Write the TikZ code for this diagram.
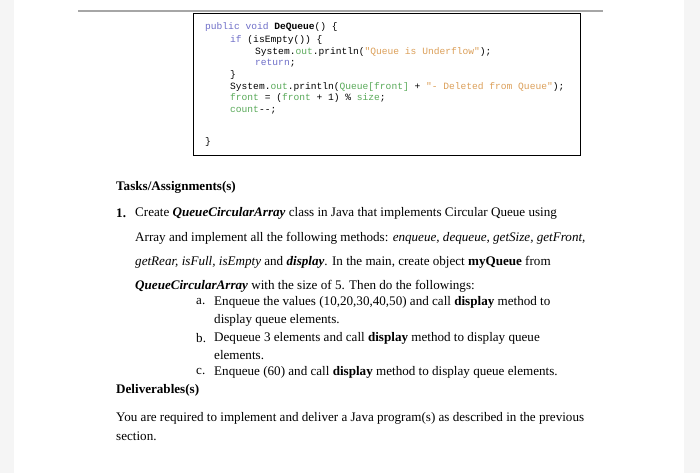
\documentclass[tikz,border=0pt]{standalone}
\usepackage{fontspec}
\setmainfont{Liberation Serif}
\setmonofont{Liberation Mono}
\definecolor{kw}{RGB}{110,110,200}
\definecolor{st}{RGB}{220,160,90}
\definecolor{gr}{RGB}{90,170,90}
\begin{document}
\begin{tikzpicture}[x=1pt,y=-1pt,
  code/.style={anchor=west,inner sep=0,font=\fontsize{9.6}{11}\ttfamily},
  txt/.style={anchor=west,inner sep=0,font=\fontsize{13.1}{15}\selectfont}]
\fill[gray!8] (0,0) rectangle (700,473);
\fill[white] (14,0) rectangle (684,473);
\useasboundingbox (0,0) rectangle (700,473);
\draw[gray!70,line width=1.2] (78,11) -- (603,11);
\draw[line width=0.8] (193,13) rectangle (580,155);
\node[code] (c1) at (205,27) {\textcolor{kw}{public void} \textbf{DeQueue}() \{};
\node[code] (c2) at (230,40) {\textcolor{kw}{if} (isEmpty()) \{};
\node[code] (c3) at (255,52) {System.\textcolor{gr}{out}.println(\textcolor{st}{"Queue is Underflow"});};
\node[code] (c4) at (255,63) {\textcolor{kw}{return};};
\node[code] (c5) at (230,75) {\}};
\node[code] (c6) at (230,87) {System.\textcolor{gr}{out}.println(\textcolor{gr}{Queue[front]} + \textcolor{st}{"- Deleted from Queue"});};
\node[code] (c7) at (230,98) {\textcolor{gr}{front} = (\textcolor{gr}{front} + 1) \% \textcolor{gr}{size};};
\node[code] (c8) at (230,110) {\textcolor{gr}{count}--;};
\node[code] (c9) at (205,142) {\}};
\node[txt] (t0) at (116,187) {\textbf{Tasks/Assignments(s)}};
\node[txt] (t1) at (116,213) {\textbf{1.}};
\node[txt] (t1a) at (135,213) {Create \textbf{\textit{QueueCircularArray}} class in Java that implements Circular Queue using};
\node[txt] (t1b) at (135,238) {Array and implement all the following methods: \textit{enqueue, dequeue, getSize, getFront,}};
\node[txt] (t1c) at (135,262) {\textit{getRear, isFull, isEmpty} and \textbf{\textit{display}}. In the main, create object \textbf{myQueue} from};
\node[txt] (t1d) at (135,286) {\textbf{\textit{QueueCircularArray}} with the size of 5. Then do the followings:};
\node[txt] (a) at (196,302) {a.};
\node[txt] (a1) at (214,302) {Enqueue the values (10,20,30,40,50) and call \textbf{display} method to};
\node[txt] (a2) at (214,320) {display queue elements.};
\node[txt] (b) at (196,338) {b.};
\node[txt] (b1) at (214,338) {Dequeue 3 elements and call \textbf{display} method to display queue};
\node[txt] (b2) at (214,355) {elements.};
\node[txt] (c) at (196,372) {c.};
\node[txt] (c1t) at (214,372) {Enqueue (60) and call \textbf{display} method to display queue elements.};
\node[txt] (d0) at (116,390) {\textbf{Deliverables(s)}};
\node[txt] (d1) at (116,418) {You are required to implement and deliver a Java program(s) as described in the previous};
\node[txt] (d2) at (116,436) {section.};
\end{tikzpicture}
\end{document}
